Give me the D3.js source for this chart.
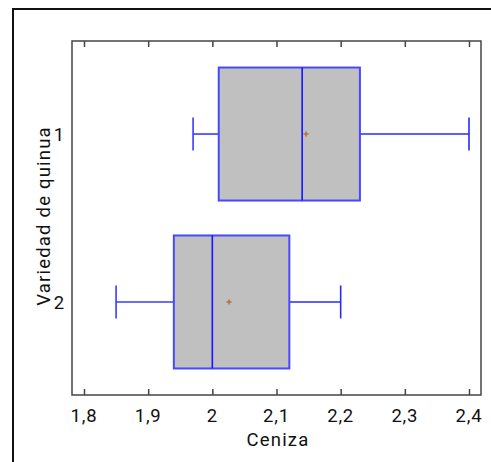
<!DOCTYPE html>
<html lang="es">
<head>
  <meta charset="UTF-8">
  <title>Ceniza por variedad de quinua</title>
  <script src="https://d3js.org/d3.v7.min.js"></script>
  <style>
    body {
      margin: 0;
      background: white;
      font-family: Roboto, Arial, sans-serif;
    }

    svg {
      display: block;
    }

    .axis-line {
      stroke: #444;
      stroke-width: 1.5;
      fill: none;
    }

    .tick-label {
      font-size: 18.5px;
      letter-spacing: 0.8px;
      fill: #111;
    }

    .axis-title {
      font-size: 18.5px;
      letter-spacing: 1.2px;
      fill: #111;
    }
  </style>
</head>
<body>
  <svg id="chart"></svg>
  <script>
    // Datos
    const categories = ["1", "2"];
    const whiskerLow = [1.97, 1.85];
    const q1Values = [2.01, 1.94];
    const medians = [2.14, 2.0];
    const q3Values = [2.23, 2.12];
    const whiskerHigh = [2.4, 2.2];
    const means = [2.146, 2.026];
    const xTicks = [1.8, 1.9, 2.0, 2.1, 2.2, 2.3, 2.4];

    const width = 491;
    const height = 462;
    const plot = { left: 72, top: 41, right: 481, bottom: 395 };

    const svg = d3.select("#chart")
      .attr("width", width)
      .attr("height", height);

    // Marco exterior (solo se ven arriba e izquierda)
    svg.append("path")
      .attr("d", `M13,${height + 5}V9H${width + 5}`)
      .attr("fill", "none")
      .attr("stroke", "#111")
      .attr("stroke-width", 2);

    const x = d3.scaleLinear()
      .domain([1.7813, 2.4187])
      .range([plot.left, plot.right]);

    const y = d3.scalePoint()
      .domain(categories)
      .range([plot.top, plot.bottom])
      .padding(0.554);

    const boxH = 133;
    const capH = 33;

    const rows = categories.map((c, i) => ({
      cat: c,
      lo: whiskerLow[i],
      q1: q1Values[i],
      med: medians[i],
      q3: q3Values[i],
      hi: whiskerHigh[i],
      mean: means[i]
    }));

    const g = svg.append("g");

    const box = g.selectAll(".box")
      .data(rows)
      .enter()
      .append("g")
      .attr("class", "box");

    // Bigotes
    box.append("line")
      .attr("x1", d => x(d.lo))
      .attr("x2", d => x(d.q1))
      .attr("y1", d => y(d.cat))
      .attr("y2", d => y(d.cat))
      .attr("stroke", "#3a3aff")
      .attr("stroke-width", 1.6);

    box.append("line")
      .attr("x1", d => x(d.q3))
      .attr("x2", d => x(d.hi))
      .attr("y1", d => y(d.cat))
      .attr("y2", d => y(d.cat))
      .attr("stroke", "#2a2aff")
      .attr("stroke-width", 1.6);

    box.append("line")
      .attr("x1", d => x(d.lo))
      .attr("x2", d => x(d.lo))
      .attr("y1", d => y(d.cat) - capH / 2)
      .attr("y2", d => y(d.cat) + capH / 2)
      .attr("stroke", "#3a3aff")
      .attr("stroke-width", 1.6);

    box.append("line")
      .attr("x1", d => x(d.hi))
      .attr("x2", d => x(d.hi))
      .attr("y1", d => y(d.cat) - capH / 2)
      .attr("y2", d => y(d.cat) + capH / 2)
      .attr("stroke", "#2a2aff")
      .attr("stroke-width", 1.6);

    // Caja
    box.append("rect")
      .attr("x", d => x(d.q1))
      .attr("y", d => y(d.cat) - boxH / 2)
      .attr("width", d => x(d.q3) - x(d.q1))
      .attr("height", boxH)
      .attr("fill", "#c0c0c0")
      .attr("stroke", "#4848ff")
      .attr("stroke-width", 2);

    // Mediana
    box.append("line")
      .attr("x1", d => x(d.med))
      .attr("x2", d => x(d.med))
      .attr("y1", d => y(d.cat) - boxH / 2)
      .attr("y2", d => y(d.cat) + boxH / 2)
      .attr("stroke", "#1515ff")
      .attr("stroke-width", 1.6);

    // Media
    box.append("path")
      .attr("d", d => {
        const cx = x(d.mean), cy = y(d.cat);
        return `M${cx - 2.5},${cy}H${cx + 2.5}M${cx},${cy - 2.5}V${cy + 2.5}`;
      })
      .attr("stroke", "#b8703a")
      .attr("stroke-width", 1.5);

    // Marco del gráfico
    svg.append("rect")
      .attr("class", "axis-line")
      .attr("x", plot.left)
      .attr("y", plot.top)
      .attr("width", plot.right - plot.left)
      .attr("height", plot.bottom - plot.top);

    // Marcas del eje X (arriba y abajo, hacia dentro)
    svg.append("g")
      .attr("transform", `translate(0,${plot.bottom})`)
      .call(d3.axisBottom(x).tickValues(xTicks).tickSize(-6).tickFormat(""))
      .call(a => a.select(".domain").remove())
      .call(a => a.selectAll("line").attr("stroke", "#444").attr("stroke-width", 1.5));

    svg.append("g")
      .attr("transform", `translate(0,${plot.top})`)
      .call(d3.axisTop(x).tickValues(xTicks).tickSize(-6).tickFormat(""))
      .call(a => a.select(".domain").remove())
      .call(a => a.selectAll("line").attr("stroke", "#444").attr("stroke-width", 1.5));

    const fmt = v => d3.format("~g")(v).replace(".", ",");

    svg.selectAll(".xlab")
      .data(xTicks)
      .enter()
      .append("text")
      .attr("class", "tick-label")
      .attr("x", d => x(d))
      .attr("y", 421.5)
      .attr("text-anchor", "middle")
      .text(fmt);

    svg.selectAll(".ylab")
      .data(categories)
      .enter()
      .append("text")
      .attr("class", "tick-label")
      .attr("x", 65)
      .attr("y", d => y(d) + 7)
      .attr("text-anchor", "end")
      .text(d => d);

    svg.append("text")
      .attr("class", "axis-title")
      .attr("x", 278)
      .attr("y", 445.7)
      .attr("text-anchor", "middle")
      .text("Ceniza");

    svg.append("text")
      .attr("class", "axis-title")
      .attr("transform", `translate(49.5,216) rotate(-90)`)
      .attr("text-anchor", "middle")
      .text("Variedad de quinua");
  </script>
</body>
</html>
